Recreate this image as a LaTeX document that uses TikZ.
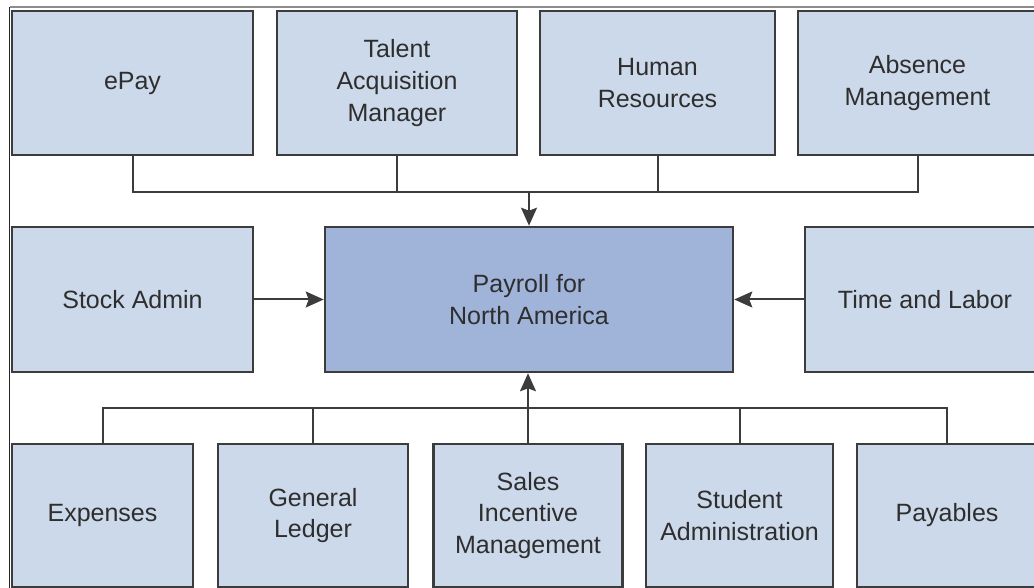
\documentclass[tikz,border=0pt]{standalone}
\usepackage{fontspec}
\setmainfont{Liberation Sans}
\usetikzlibrary{arrows.meta}

\definecolor{boxfill}{HTML}{CCD9EA}
\definecolor{mainfill}{HTML}{A0B4DA}
\definecolor{edge}{HTML}{3C3C3C}
\definecolor{txt}{HTML}{2E2E2E}

\tikzset{
  modbox/.style={draw=edge,line width=1.3pt,fill=boxfill,inner sep=0pt,
    align=center,text=txt,font=\fontsize{12.5}{15.8}\selectfont},
  link/.style={draw=edge,line width=1pt},
}

\begin{document}
\begin{tikzpicture}[>={Stealth[length=9pt,width=8pt,inset=1.5pt]},x=0.5pt,y=-0.5pt]
            \useasboundingbox (0,0) rectangle (1034,588);
            \clip (0,0) rectangle (1034,588);
            % frame of the screenshot
            \draw[black!85,line width=0.5pt] (9.5,7) -- (9.5,588);
            \draw[black!45,line width=0.8pt] (9.5,7) -- (1034,7);
            % top row
            \foreach \n/\x/\w/\t in {epay/132.5/120.5/ePay,
                tam/397/120/{Talent\\Acquisition\\Manager},
                hr/657.5/117.5/{Human\\Resources},
                absence/917.5/119.5/{Absence\\Management}}
                \node[modbox,minimum width=\w pt,minimum height=72pt] (\n) at (\x,83) {\t};
            % middle row
            \node[modbox,minimum width=120.5pt,minimum height=72.5pt] (stock) at (132.5,299.5) {Stock Admin};
            \node[modbox,fill=mainfill,minimum width=204pt,minimum height=72.5pt] (main) at (529,299.5) {Payroll for\\North America};
            \node[modbox,minimum width=120pt,minimum height=72.5pt] (time) at (925,299.5) {Time and Labor};
            % bottom row
            \foreach \n/\x/\w/\t in {expenses/102.5/90.5/Expenses,
                ledger/313/95/{General\\Ledger},
                sales/528/94.5/{Sales\\Incentive\\Management},
                student/739.5/93.5/{Student\\Administration},
                payables/947/90/Payables}
                \node[modbox,minimum width=\w pt,minimum height=71.5pt] (\n) at (\x,515.5) {\t};
            % connectors
            \coordinate (topbus) at (529,192);
            \coordinate (botbus) at (529,408);
            \foreach \n in {epay,tam,hr,absence}
                \draw[link] (\n.south) |- (topbus);
            \draw[link,->] (topbus) -- (main.north);
            \foreach \n in {expenses,ledger,student,payables}
                \draw[link] (\n.north) |- (botbus);
            \draw[link,->] (sales.north) -- (sales.north |- main.south);
            \draw[link,->] (stock.east) -- (main.west);
            \draw[link,->] (time.west) -- (main.east);
        \end{tikzpicture}
\end{document}
